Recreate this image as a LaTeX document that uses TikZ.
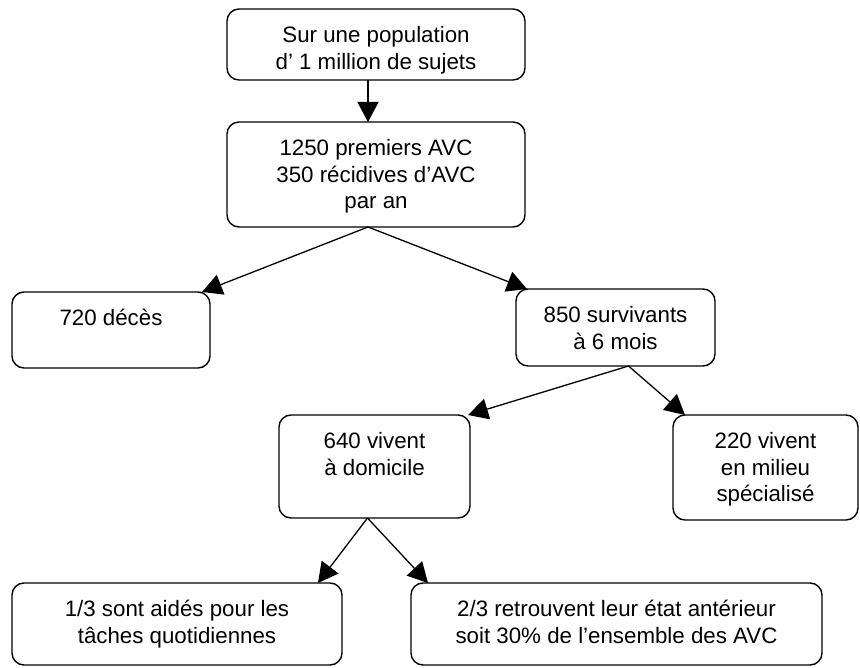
\documentclass[tikz,border=0pt]{standalone}
\usepackage{fontspec}
\setmainfont{Liberation Sans}
\usetikzlibrary{arrows.meta,calc}
\tikzset{
  box/.style={draw, line width=1.4pt, rounded corners=12pt, inner sep=0pt, outer sep=0pt},
  conn/.style={line width=1.3pt, -{Triangle[length=20pt,width=21pt]}},
}
\newcommand{\boxtext}[3]{\parbox[c][#2pt][t]{#1pt}{\centering\fontsize{22.3}{26.5}\selectfont\vspace*{15pt}\strut#3}}
\begin{document}
\begin{tikzpicture}[x=1pt,y=-1pt]
\useasboundingbox (0,0) rectangle (860,668);
\node[box] (b1) at (376,44.5) {\boxtext{298}{71}{Sur une population\\d’ 1 million de sujets}};
\node[box] (b2) at (376,174.5) {\boxtext{298}{105}{1250 premiers AVC\\350 récidives d’AVC\\par an}};
\node[box] (b3) at (111,330) {\boxtext{198}{76}{720 décès}};
\node[box] (b4) at (615.5,327.5) {\boxtext{199}{77}{850 survivants\\à 6 mois}};
\node[box] (b5) at (374.5,466.5) {\boxtext{191}{103}{640 vivent\\à domicile}};
\node[box] (b6) at (765.5,467.5) {\boxtext{185}{105}{220 vivent\\en milieu\\spécialisé}};
\node[box] (b7) at (177,624) {\boxtext{330}{82}{1/3 sont aidés pour les\\tâches quotidiennes}};
\node[box] (b8) at (616.5,624) {\boxtext{411}{82}{2/3 retrouvent leur état antérieur\\soit 30\% de l’ensemble des AVC}};
\draw[conn] ($(b1.south)+(-8,0)$) -- ($(b2.north)+(-8,0)$);
\draw[conn] ($(b2.south)+(-8,0)$) -- ($(b3.north east)+(-8,0)$);
\draw[conn] ($(b2.south)+(-8,0)$) -- ($(b4.north west)+(11,0)$);
\draw[conn] ($(b4.south)+(13,0)$) -- ($(b5.north east)+(-2,0)$);
\draw[conn] ($(b4.south)+(13,0)$) -- ($(b6.north west)+(12,0)$);
\draw[conn] ($(b5.south)+(-7,0)$) -- ($(b7.north east)+(-24,0)$);
\draw[conn] ($(b5.south)+(-7,0)$) -- ($(b8.north west)+(17,0)$);
\end{tikzpicture}
\end{document}
